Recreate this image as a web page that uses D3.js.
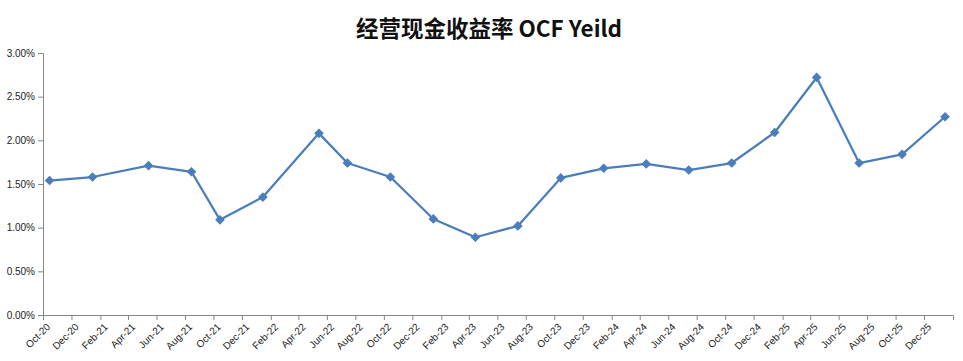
<!DOCTYPE html>
<html>
<head>
<meta charset="utf-8">
<script src="https://cdn.jsdelivr.net/npm/d3@7"></script>
<style>
  body { margin: 0; background: #fff; }
  .eje text { font-family: "Liberation Sans", Arial, sans-serif; font-size: 10px; fill: #222; }
  .eje path, .eje line { stroke: #868686; }
  .titulo { font-family: "Noto Sans CJK SC", sans-serif; font-size: 22.5px; font-weight: bold; fill: #111; }
</style>
</head>
<body>
<div id="graf"></div>
<script>
// datos
fechas = ['2020-10-15', '2021-01-15', '2021-05-15', '2021-08-15', '2021-10-15', '2022-01-15',
          '2022-05-15', '2022-07-15', '2022-10-15', '2023-01-15', '2023-04-15', '2023-07-15',
          '2023-10-15', '2024-01-15', '2024-04-15', '2024-07-15', '2024-10-15', '2025-01-15',
          '2025-04-15', '2025-07-15', '2025-10-15', '2026-01-15']
valores = [1.54, 1.58, 1.71, 1.64, 1.09, 1.35, 2.08, 1.74, 1.58, 1.10, 0.89, 1.02,
           1.57, 1.68, 1.73, 1.66, 1.74, 2.09, 2.72, 1.74, 1.84, 2.27]
etiquetasX = ['Oct-20', 'Dec-20', 'Feb-21', 'Apr-21', 'Jun-21', 'Aug-21', 'Oct-21', 'Dec-21',
              'Feb-22', 'Apr-22', 'Jun-22', 'Aug-22', 'Oct-22', 'Dec-22', 'Feb-23', 'Apr-23',
              'Jun-23', 'Aug-23', 'Oct-23', 'Dec-23', 'Feb-24', 'Apr-24', 'Jun-24', 'Aug-24',
              'Oct-24', 'Dec-24', 'Feb-25', 'Apr-25', 'Jun-25', 'Aug-25', 'Oct-25', 'Dec-25']
ticksY = [0, 0.5, 1, 1.5, 2, 2.5, 3]
titulo = '经营现金收益率 OCF Yeild'

// configuración
ancho_total = 963
alto_total = 361
margins = { top: 53, left: 43, right: 10, bottom: 46 }
ancho = ancho_total - margins.left - margins.right
alto = alto_total - margins.top - margins.bottom

parseDia = d3.timeParse('%Y-%m-%d')
parseMes = d3.timeParse('%b-%y')

data = fechas.map((f, i) => ({ fecha: parseDia(f), valor: valores[i] }))
ticksX = etiquetasX.map(parseMes)

svg = d3.select('#graf').append('svg')
        .attr('width', ancho_total)
        .attr('height', alto_total)

g = svg.append('g')
       .attr('transform', `translate(${ margins.left }, ${ margins.top })`)

x = d3.scaleTime()
      .domain([ticksX[0], d3.timeMonth.offset(ticksX[ticksX.length - 1], 2)])
      .range([0, ancho])

y = d3.scaleLinear()
      .domain([0, 3])
      .range([alto, 0])

// ejes
xAxisCall = d3.axisBottom(x)
              .tickValues(ticksX)
              .tickSize(5)
              .tickSizeOuter(5)
              .tickFormat(d3.timeFormat('%b-%y'))
g.append('g')
 .attr('class', 'eje')
 .attr('transform', `translate(0, ${ alto })`)
 .call(xAxisCall)
 .selectAll('text')
   .attr('x', 0)
   .attr('y', 0)
   .attr('dy', '0.35em')
   .attr('text-anchor', 'end')
   .attr('transform', 'translate(5, 10) rotate(-45)')

yAxisCall = d3.axisLeft(y)
              .tickValues(ticksY)
              .tickSize(5)
              .tickSizeOuter(5)
              .tickPadding(3)
              .tickFormat(d => d3.format('.2f')(d) + '%')
g.append('g')
 .attr('class', 'eje')
 .call(yAxisCall)

// línea
linea = d3.line()
          .x(d => x(d.fecha))
          .y(d => y(d.valor))

g.append('path')
 .datum(data)
 .attr('d', linea)
 .attr('fill', 'none')
 .attr('stroke', '#4A7EBB')
 .attr('stroke-width', 2.25)
 .attr('stroke-linejoin', 'round')

rombo = d3.symbol().type(d3.symbolSquare).size(34)
g.selectAll('.marca')
 .data(data)
 .enter()
 .append('path')
   .attr('class', 'marca')
   .attr('d', rombo)
   .attr('fill', '#4A7EBB')
   .attr('stroke', '#4A7EBB')
   .attr('stroke-width', 1)
   .attr('transform', d => `translate(${ x(d.fecha) }, ${ y(d.valor) }) rotate(45)`)

// título
svg.append('text')
   .attr('class', 'titulo')
   .attr('x', 489)
   .attr('y', 37)
   .attr('text-anchor', 'middle')
   .text(titulo)
</script>
</body>
</html>
